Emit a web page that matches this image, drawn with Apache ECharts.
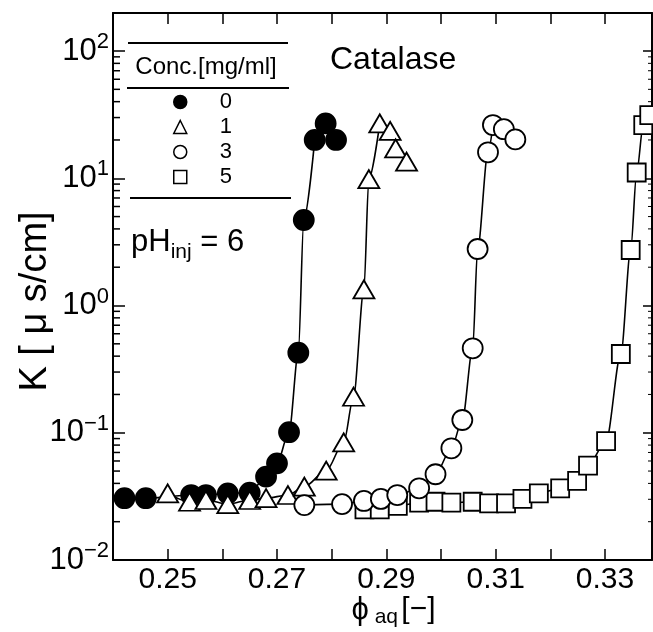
<!DOCTYPE html>
<html><head><meta charset="utf-8">
<script src="https://cdn.jsdelivr.net/npm/echarts@6/dist/echarts.min.js"></script>
<style>html,body{margin:0;padding:0;background:#fff}#c{width:653px;height:632px}</style>
</head><body><div id="c"></div>
<script>
// ---- data ----
const conc0_phi = [0.2421, 0.2460, 0.2543, 0.2570, 0.2610, 0.2650, 0.2680, 0.2700, 0.2722, 0.2739, 0.2749, 0.2769, 0.2789, 0.2808];
const conc0_K   = [0.0306, 0.0306, 0.0324, 0.0324, 0.0334, 0.0338, 0.0452, 0.0575, 0.101, 0.426, 4.70, 20.0, 27.0, 20.0];
const conc1_phi = [0.2500, 0.2540, 0.2570, 0.2610, 0.2650, 0.2680, 0.2720, 0.2750, 0.2790, 0.2822, 0.2840, 0.2859, 0.2868, 0.2888, 0.2907, 0.2917, 0.2937];
const conc1_K   = [0.0334, 0.0287, 0.0296, 0.0275, 0.0296, 0.0306, 0.0324, 0.0377, 0.0504, 0.0839, 0.192, 1.34, 9.86, 27.0, 23.6, 17.2, 13.5];
const conc3_phi = [0.2750, 0.2819, 0.2859, 0.2890, 0.2920, 0.2960, 0.2990, 0.3019, 0.3039, 0.3058, 0.3067, 0.3086, 0.3095, 0.3115, 0.3136];
const conc3_K   = [0.0270, 0.0275, 0.0291, 0.0302, 0.0324, 0.0366, 0.0472, 0.0755, 0.126, 0.461, 2.78, 16.0, 26.2, 24.3, 20.2];
const conc5_phi = [0.2860, 0.2888, 0.2921, 0.2960, 0.2990, 0.3019, 0.3058, 0.3088, 0.3119, 0.3149, 0.3179, 0.3218, 0.3249, 0.3269, 0.3302, 0.3329, 0.3347, 0.3358, 0.3370, 0.3381];
const conc5_K   = [0.0250, 0.0250, 0.0266, 0.0282, 0.0287, 0.0282, 0.0287, 0.0279, 0.0279, 0.0302, 0.0334, 0.0366, 0.0418, 0.0551, 0.0861, 0.416, 2.73, 11.1, 26.2, 31.4];
// number of points (from the left) that the fitted curve passes through
const fitEnd0 = 12, fitEnd1 = 14, fitEnd3 = 13, fitEnd5 = 20;

const seriesNames = ['0', '1', '3', '5'];
const xTickLabels = ['0.25', '0.27', '0.29', '0.31', '0.33'];
const yTickExponents = [-2, -1, 0, 1, 2];
const minorMultipliers = [2, 3, 4, 5, 6, 7, 8, 9];
const minorDecades = [0.01, 0.1, 1, 10];
const xMin = 0.24, xMax = 0.3386, xStep = 0.01, kMin = 0.01, kMax = 199;

const FONT = '"Liberation Sans", Arial, Helvetica, sans-serif';

function pairs(xs, ys, n) { const out = []; for (let i = 0; i < (n == null ? xs.length : n); i++) out.push([xs[i], ys[i]]); return out; }

const groups = [
  { name: seriesNames[0], phi: conc0_phi, k: conc0_K, fit: fitEnd0, symbol: 'circle', size: 20, fill: '#000', z: 4 },
  { name: seriesNames[1], phi: conc1_phi, k: conc1_K, fit: fitEnd1, symbol: 'triangle', size: [21, 18], fill: '#fff', z: 5 },
  { name: seriesNames[2], phi: conc3_phi, k: conc3_K, fit: fitEnd3, symbol: 'circle', size: 20, fill: '#fff', z: 6 },
  { name: seriesNames[3], phi: conc5_phi, k: conc5_K, fit: fitEnd5, symbol: 'rect', size: 18, fill: '#fff', z: 3 }
];

const minorTicks = [];
minorDecades.forEach(d => minorMultipliers.forEach(m => { const v = d * m; if (v < kMax) minorTicks.push([xMin, v]); }));

const series = [];
groups.forEach(g => {
  series.push({
    name: 'fit' + g.name, type: 'line', data: pairs(g.phi, g.k, g.fit),
    smooth: 0.3, smoothMonotone: 'x', showSymbol: false, symbol: 'none', silent: true,
    lineStyle: { color: '#000', width: 1.6 }, z: 2
  });
});
groups.forEach(g => {
  series.push({
    name: g.name, type: 'scatter', data: pairs(g.phi, g.k),
    symbol: g.symbol, symbolSize: g.size, z: g.z, silent: true,
    itemStyle: { color: g.fill, borderColor: '#000', borderWidth: 1.8, opacity: 1 }
  });
});
series.push({
  type: 'custom', silent: true, z: 1, data: minorTicks, clip: false,
  renderItem: function (params, api) {
    const cs = params.coordSys;
    const y = api.coord([xMin, api.value(1)])[1];
    return { type: 'group', children: [
      { type: 'line', shape: { x1: cs.x, y1: y, x2: cs.x + 7, y2: y }, style: { stroke: '#000', lineWidth: 1.5 } },
      { type: 'line', shape: { x1: cs.x + cs.width, y1: y, x2: cs.x + cs.width - 4, y2: y }, style: { stroke: '#000', lineWidth: 1 } }
    ] };
  }
});

const chart = echarts.init(document.getElementById('c'), null, { renderer: 'canvas' });
chart.setOption({
  animation: false,
  backgroundColor: '#fff',
  textStyle: { fontFamily: FONT },
  grid: { left: 113, right: 1, top: 13, bottom: 72, containLabel: false, outerBoundsMode: 'none' },
  xAxis: [{
    type: 'value', min: xMin, max: xMax, interval: xStep, position: 'bottom',
    axisLine: { show: true, onZero: false, lineStyle: { color: '#000', width: 2 } },
    axisTick: { show: true, inside: true, length: 11, lineStyle: { color: '#000', width: 1.5 } },
    splitLine: { show: false },
    axisLabel: {
      show: true, margin: 5, color: '#000', fontSize: 30, fontFamily: FONT,
      formatter: v => { const s = v.toFixed(2); return xTickLabels.indexOf(s) >= 0 ? s : ''; },
      showMinLabel: true, showMaxLabel: true, hideOverlap: false
    },
    name: '{phi|ϕ}{sub| aq} {br|[−]}', nameLocation: 'middle', nameGap: 32, nameMoveOverlap: false,
    nameTextStyle: {
      padding: [0, 0, 0, 22],
      rich: {
        phi: { fontSize: 31, fontFamily: FONT, color: '#000', lineHeight: 36 },
        sub: { fontSize: 21, fontFamily: FONT, color: '#000', verticalAlign: 'bottom', lineHeight: 22 },
        br: { fontSize: 30, fontFamily: FONT, color: '#000', lineHeight: 36 }
      }
    }
  }, {
    type: 'value', min: xMin, max: xMax, interval: xStep, position: 'top',
    axisLine: { show: true, onZero: false, lineStyle: { color: '#000', width: 2 } },
    axisTick: { show: true, inside: true, length: 11, lineStyle: { color: '#000', width: 1.5 } },
    axisLabel: { show: false }, splitLine: { show: false }
  }],
  yAxis: [{
    type: 'log', logBase: 10, min: kMin, max: kMax, position: 'left',
    axisLine: { show: true, onZero: false, lineStyle: { color: '#000', width: 2 } },
    axisTick: { show: true, inside: true, length: 12, lineStyle: { color: '#000', width: 1.5 } },
    splitLine: { show: false }, minorTick: { show: false },
    axisLabel: {
      show: true, margin: 4, color: '#000',
      formatter: v => {
        const e = Math.round(Math.log10(v));
        if (Math.abs(Math.log10(v) - e) > 1e-6 || yTickExponents.indexOf(e) < 0) return '';
        return '{b|10}{s|' + (e < 0 ? '−' + (-e) : e) + '}';
      },
      rich: {
        b: { fontSize: 31, fontFamily: FONT, color: '#000', lineHeight: 40 },
        s: { fontSize: 22, fontFamily: FONT, color: '#000', lineHeight: 22, verticalAlign: 'top' }
      }
    },
    name: 'K [ μ s/cm]', nameLocation: 'middle', nameRotate: 90, nameGap: 56, nameMoveOverlap: false,
    nameTextStyle: { fontSize: 38, lineHeight: 42, fontFamily: FONT, color: '#000', padding: [0, 30, 0, 0] }
  }, {
    type: 'log', logBase: 10, min: kMin, max: kMax, position: 'right',
    axisLine: { show: true, onZero: false, lineStyle: { color: '#000', width: 2 } },
    axisTick: { show: true, inside: true, length: 9, lineStyle: { color: '#000', width: 1.5 } },
    axisLabel: { show: false }, splitLine: { show: false }
  }],
  legend: {
    show: true, orient: 'vertical', left: 173, top: 91, itemWidth: 13, itemHeight: 13, itemGap: 3,
    selectedMode: false, padding: 0,
    data: groups.map(g => ({ name: g.name, icon: g.symbol, itemStyle: { color: g.fill, borderColor: '#000', borderWidth: 1.5 } })),
    textStyle: { fontSize: 22, lineHeight: 22, color: '#000', fontFamily: FONT, padding: [0, 0, 0, 28] }
  },
  graphic: [
    { type: 'line', shape: { x1: 128, y1: 43, x2: 288, y2: 43 }, style: { stroke: '#000', lineWidth: 2 } },
    { type: 'line', shape: { x1: 127, y1: 88, x2: 289, y2: 88 }, style: { stroke: '#000', lineWidth: 2 } },
    { type: 'line', shape: { x1: 130, y1: 198, x2: 291, y2: 198 }, style: { stroke: '#000', lineWidth: 2 } },
    { type: 'text', x: 206, y: 67, style: { text: 'Conc.[mg/ml]', font: '24px ' + FONT, fill: '#000', align: 'center', verticalAlign: 'middle' } },
    { type: 'text', x: 330, y: 60, style: { text: 'Catalase', font: '32px ' + FONT, fill: '#000', align: 'left', verticalAlign: 'middle' } },
    { type: 'text', x: 131, y: 242, style: {
        text: '{a|pH}{b|inj}{a| = 6}', align: 'left', verticalAlign: 'middle',
        rich: {
          a: { fontSize: 31, fontFamily: FONT, fill: '#000', lineHeight: 42 },
          b: { fontSize: 21, fontFamily: FONT, fill: '#000', lineHeight: 21, verticalAlign: 'bottom' }
        } } }
  ],
  series: series
});
</script>
</body></html>
